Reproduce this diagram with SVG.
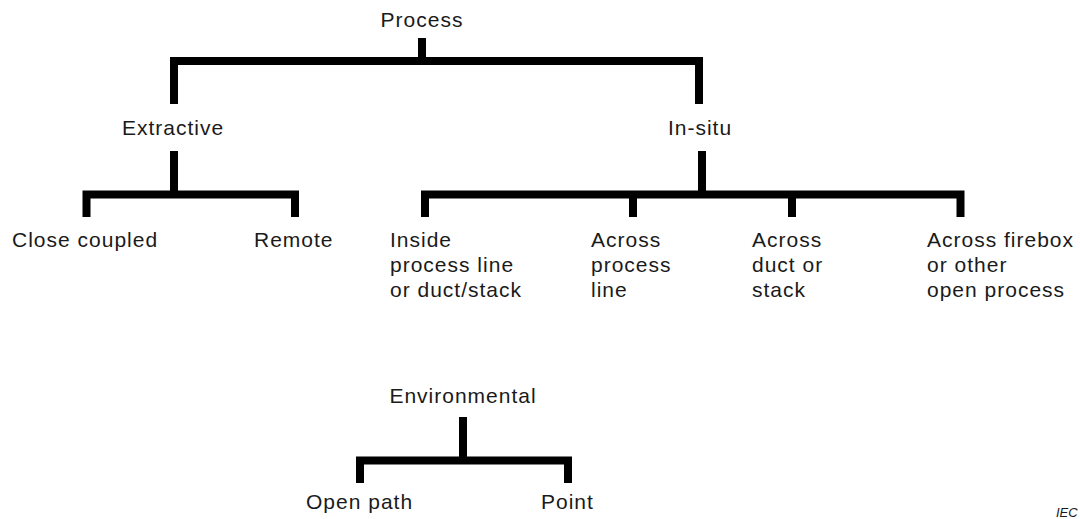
<svg xmlns="http://www.w3.org/2000/svg" width="1080" height="519" viewBox="0 0 1080 519">
  <style>
    .t { font-family: "Liberation Sans", Arial, sans-serif; font-size: 21px; letter-spacing: 1px; fill: #1a1a1a; }
    .m { text-anchor: middle; }
    .c { fill: none; stroke: #000; stroke-width: 8; stroke-linecap: butt; stroke-linejoin: miter; }
    .iec { font-family: "Liberation Sans", Arial, sans-serif; font-size: 13px; font-style: italic; fill: #1a1a1a; }
  </style>
  <rect width="1080" height="519" fill="#fff"/>
  <g id="connectors">
    <path class="c" d="M422 38 V61"/>
    <path class="c" d="M174 104 V61 H699 V104"/>
    <path class="c" d="M174 151 V194.5"/>
    <path class="c" d="M86.5 217 V194.5 H295 V217"/>
    <path class="c" d="M702 151 V194.5"/>
    <path class="c" d="M425 217 V194.5 H960.5 V217"/>
    <path class="c" d="M633 194.5 V217"/>
    <path class="c" d="M792 194.5 V217"/>
    <path class="c" d="M463 417 V460.5"/>
    <path class="c" d="M360 483 V460.5 H568 V483"/>
  </g>
  <g id="process"><text class="t m" x="422" y="27">Process</text></g>
  <g id="extractive"><text class="t m" x="173" y="135">Extractive</text></g>
  <g id="insitu"><text class="t m" x="700" y="135">In-situ</text></g>
  <g id="close-coupled"><text class="t" x="12" y="247">Close coupled</text></g>
  <g id="remote"><text class="t" x="254" y="247">Remote</text></g>
  <g id="inside">
    <text class="t" x="390" y="247">Inside</text>
    <text class="t" x="390" y="272">process line</text>
    <text class="t" x="390" y="297">or duct/stack</text>
  </g>
  <g id="across-process">
    <text class="t" x="591" y="247">Across</text>
    <text class="t" x="591" y="272">process</text>
    <text class="t" x="591" y="297">line</text>
  </g>
  <g id="across-duct">
    <text class="t" x="752" y="247">Across</text>
    <text class="t" x="752" y="272">duct or</text>
    <text class="t" x="752" y="297">stack</text>
  </g>
  <g id="across-firebox">
    <text class="t" x="927" y="247">Across firebox</text>
    <text class="t" x="927" y="272">or other</text>
    <text class="t" x="927" y="297">open process</text>
  </g>
  <g id="environmental"><text class="t m" x="463" y="403">Environmental</text></g>
  <g id="open-path"><text class="t" x="306" y="509">Open path</text></g>
  <g id="point"><text class="t" x="541" y="509">Point</text></g>
  <g id="iec"><text class="iec" x="1056" y="517">IEC</text></g>
</svg>
